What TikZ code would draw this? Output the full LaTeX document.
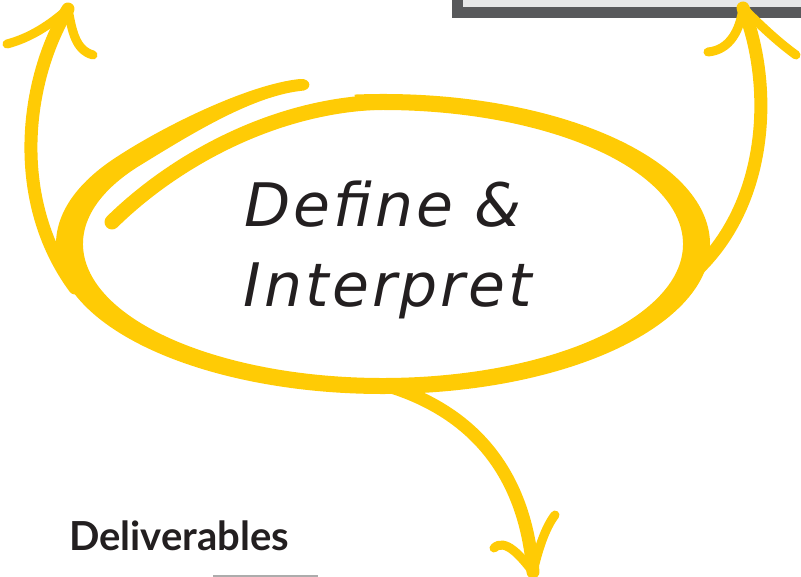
\documentclass[tikz,border=0pt]{standalone}
\usepackage{fontspec}
\setmainfont{Lato}
\newfontfamily\handfont[LetterSpace=5, ItalicFont={DejaVu Sans Oblique}]{DejaVu Sans}
\usetikzlibrary{calc}

\definecolor{mustard}{HTML}{FFCB05}
\definecolor{ink}{HTML}{231F20}
\definecolor{frame}{HTML}{58595B}
\definecolor{paper}{HTML}{E6E7E8}

\begin{document}
\begin{tikzpicture}[
    x=1pt, y=-1pt,
    loopline/.style={draw=mustard, line width=13, line cap=round, line join=round},
    barb/.style={draw=mustard, line width=9, line cap=round},
    handtext/.style={font=\handfont\itshape\fontsize{60}{72}\selectfont, text=ink, inner sep=0pt},
    heading/.style={font=\bfseries\fontsize{40}{48}\selectfont, text=ink, inner sep=0pt}
]
    \useasboundingbox (0,0) rectangle (801,577);

    % Box at the top right
    \draw[draw=frame, fill=paper, line width=11] (457.5,-40) rectangle (840,12.5);

    % Edge at the bottom
    \draw[gray!65, line width=2] (213,576) -- (318,576);

    % Loop
    \coordinate (c) at (383,244);
    \fill[mustard] ($(c)+(265:327 and 150)$)
        arc[start angle=265, end angle=575, x radius=327, y radius=150]
        .. controls (165,125) and (250,84) .. (300,79)
        .. controls (312,78) and (313,91) .. (300,91)
        .. controls (250,97) and (188,136) .. ($(c)+(575:300 and 134)$)
        arc[start angle=575, end angle=265, x radius=300, y radius=134] -- cycle;
    \coordinate (topjoin) at ($(c)+(272:313.5 and 142)$);
    \coordinate (innertail) at (112,222);
    \draw[loopline, line width=15] (topjoin) .. controls (280,101) and (175,160) .. (innertail);

    % Arrow up left
    \coordinate (leftfoot) at (75,288);
    \coordinate (lefttip) at (68,9);
    \draw[loopline] (leftfoot) .. controls (10,200) and (25,80) .. (lefttip);
    \draw[barb] (lefttip) .. controls (50,25) and (30,38) .. (7,44);
    \draw[barb] (lefttip) .. controls (72,30) and (75,50) .. (93,55);

    % Arrow up right
    \coordinate (rightfoot) at (695,272);
    \coordinate (righttip) at (743,8);
    \draw[loopline] (rightfoot) .. controls (772,200) and (772,80) .. (righttip);
    \draw[barb] (righttip) .. controls (740,30) and (730,50) .. (708,52);
    \draw[barb] (righttip) .. controls (760,25) and (778,42) .. (796,55);

    % Arrow down
    \coordinate (bottomfoot) at (385,385);
    \coordinate (bottomtip) at (533,572);
    \draw[loopline] (bottomfoot) .. controls (470,410) and (525,470) .. (bottomtip);
    \draw[barb] (bottomtip) .. controls (520,555) and (505,538) .. (494,548);
    \draw[barb] (bottomtip) .. controls (538,550) and (545,528) .. (555,515);

    % Texts
    \node[handtext, anchor=base] (define) at (383,227) {Define \&};
    \node[handtext, anchor=base] (interpret) at (388,307) {Interpret};
    \node[heading, anchor=base west] (deliverables) at (69,550) {Deliverables};

\end{tikzpicture}
\end{document}
